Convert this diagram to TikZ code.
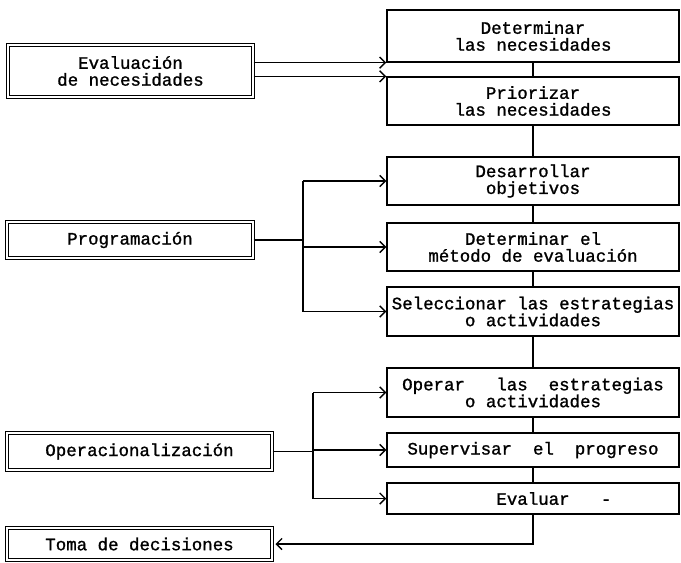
\documentclass[tikz,border=0pt]{standalone}
\usepackage{fontspec}
\setmonofont{Liberation Mono}[BoldFont={Liberation Mono},BoldFeatures={FakeBold=1.2}]
\usetikzlibrary{positioning,arrows.meta}
\tikzset{paso/.style={draw,line width=1pt,minimum width=7.3cm,align=center,inner sep=1pt,font=\ttfamily\bfseries\fontsize{12.4}{12}\selectfont}}
\tikzset{fase/.style={draw,double,double distance=1.4pt,line width=0.9pt,align=center,inner sep=1pt,font=\ttfamily\bfseries\fontsize{12.4}{12}\selectfont}}
\tikzset{flecha/.style={-{Straight Barb[length=4pt,width=8pt,line width=1pt]},line width=1pt}}
\tikzset{linea/.style={line width=1pt}}

\begin{document}
\begin{tikzpicture}[x=0.025cm,y=-0.025cm]
	\useasboundingbox (0,0) rectangle (681,562);
	%% fases
	\node[fase,minimum width=6.125cm,minimum height=1.3cm] (eva) at (130.5,71) {Evaluación\\de necesidades};
	\node[fase,minimum width=6.15cm,minimum height=0.9cm] (pro) at (130,240) {Programación};
	\node[fase,minimum width=6.625cm,minimum height=0.925cm] (ope) at (139.5,451.5) {Operacionalización};
	\node[fase,minimum width=6.625cm,minimum height=0.8cm] (tom) at (139.5,544) {Toma de decisiones};
	%% pasos
	\node[paso,minimum height=1.3cm] (det) at (533,36) {Determinar\\las necesidades};
	\node[paso,minimum height=1.2cm] (pri) at (533,101) {Priorizar\\las necesidades};
	\node[paso,minimum height=1.2cm] (des) at (533,181) {Desarrollar\\objetivos};
	\node[paso,minimum height=1.2cm] (met) at (533,247) {Determinar el\\método de evaluación};
	\node[paso,minimum height=1.225cm] (sel) at (533,311.5) {Seleccionar las estrategias\\o actividades};
	\node[paso,minimum height=1.225cm] (opr) at (533,392.5) {Operar~~~las~~estrategias\\o~actividades};
	\node[paso,minimum height=0.85cm] (sup) at (533,450) {Supervisar~~el~~progreso};
	\node[paso,minimum height=0.775cm] (evl) at (533,498.5) {~~~~Evaluar~~~-};
	
	\coordinate (pj) at (303,0);
	\coordinate (oj) at (313,0);
	
	%% cadena de pasos
	\draw[linea] (det) -- (pri) -- (des) -- (met) -- (sel) -- (opr) -- (sup) -- (evl);
	
	\draw[flecha] (eva.east |- det.south west) -- (det.south west);
	\draw[flecha] (eva.east |- pri.north west) -- (pri.north west);
	
	\draw[linea] (pro.east) -- (pro.east -| pj);
	\draw[linea] (pj |- des.west) -- (pj |- sel.west);
	\draw[flecha] (pj |- des.west) -- (des.west);
	\draw[flecha] (pj |- met.west) -- (met.west);
	\draw[flecha] (pj |- sel.west) -- (sel.west);
	
	\draw[linea] (ope.east) -- (ope.east -| oj);
	\draw[linea] (oj |- opr.west) -- (oj |- evl.west);
	\draw[flecha] (oj |- opr.west) -- (opr.west);
	\draw[flecha] (oj |- sup.west) -- (sup.west);
	\draw[flecha] (oj |- evl.west) -- (evl.west);
	
	\draw[flecha,shorten >=2pt] (evl.south) |- (tom.east);
\end{tikzpicture}
\end{document}
